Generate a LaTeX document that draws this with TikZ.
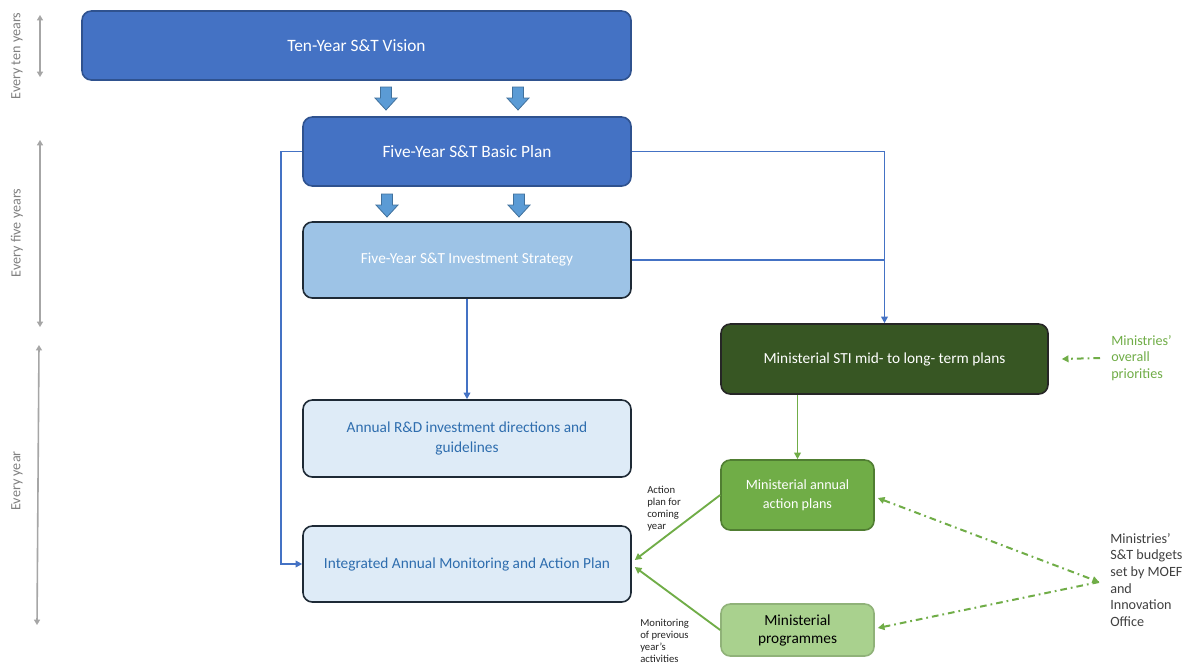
\documentclass[tikz,border=0pt]{standalone}
\usepackage{fontspec}
\setmainfont{Carlito}
\usetikzlibrary{arrows.meta}

\definecolor{vision}{HTML}{4472C4}
\definecolor{visionedge}{HTML}{2F528F}
\definecolor{strat}{HTML}{9DC3E6}
\definecolor{pale}{HTML}{DEEBF7}
\definecolor{paletext}{HTML}{2E6DAE}
\definecolor{darkgreen}{HTML}{375623}
\definecolor{midgreen}{HTML}{70AD47}
\definecolor{lightgreen}{HTML}{A9D18E}
\definecolor{greenedge}{HTML}{507E32}
\definecolor{greenline}{HTML}{70AD47}
\definecolor{blueline}{HTML}{4472C4}
\definecolor{dropfill}{HTML}{5B9BD5}
\definecolor{dropedge}{HTML}{41719C}
\definecolor{timegray}{HTML}{A6A6A6}
\definecolor{timetext}{HTML}{808080}
\definecolor{edgedark}{HTML}{1E2A36}
\definecolor{notetext}{HTML}{404040}

\tikzset{
  box/.style={rounded corners=7pt, line width=1.2pt, align=center, inner sep=2pt},
  bluebox/.style={box, fill=vision, draw=visionedge, text=white,
    font=\fontsize{13}{16}\selectfont},
  stratbox/.style={box, fill=strat, draw=edgedark, text=white,
    font=\fontsize{11.5}{14}\selectfont},
  palebox/.style={box, fill=pale, draw=edgedark, text=paletext,
    font=\fontsize{11.5}{14.3}\selectfont},
  stibox/.style={box, fill=darkgreen, draw=black!85, text=white,
    font=\fontsize{11.5}{14}\selectfont},
  actbox/.style={box, fill=midgreen, draw=greenedge, text=white,
    font=\fontsize{10.6}{14}\selectfont},
  progbox/.style={box, fill=lightgreen, draw=lightgreen!85!black, text=black,
    font=\fontsize{11.5}{13.5}\selectfont},
  blueconn/.style={draw=blueline, line width=1.4pt},
  bluearrow/.style={blueconn, -{Triangle[length=5pt,width=5pt]}},
  greenarrow/.style={draw=greenline, line width=1.4pt, -{Triangle[length=5pt,width=5pt]}},
  greendash/.style={draw=greenline, line width=1.5pt,
    dash pattern=on 5pt off 3pt on 1.3pt off 3pt},
  timeline/.style={draw=timegray, line width=1.2pt,
    {Triangle[length=4pt,width=4.5pt]}-{Triangle[length=4pt,width=4.5pt]}},
  timelabel/.style={text=timetext, font=\fontsize{10.6}{13}\selectfont, rotate=90, inner sep=0pt},
  smallnote/.style={text=black!85, font=\fontsize{8}{9}\selectfont, align=left, inner sep=0pt},
  sidenote/.style={font=\fontsize{10.6}{12.5}\selectfont, align=left, inner sep=0pt},
  drop/.pic={
    \filldraw[fill=dropfill, draw=dropedge, line width=0.6pt]
      (-5.5,0) -- (5.5,0) -- (5.5,11) -- (11,11) -- (0,23) -- (-11,11) -- (-5.5,11) -- cycle;
  }
}

\begin{document}
\begin{tikzpicture}[x=0.75pt, y=-0.75pt]
  \useasboundingbox[fill=white] (0,0) rectangle (1189,664);

  % time scale on the left
  \coordinate (t10a) at (40,15);  \coordinate (t10b) at (40,77);
  \coordinate (t5a)  at (40,140); \coordinate (t5b)  at (40,327);
  \coordinate (t1a)  at (39,345); \coordinate (t1b)  at (37,625);
  \draw[timeline] (t10a) -- (t10b);
  \draw[timeline] (t5a) -- (t5b);
  \draw[timeline] (t1a) -- (t1b);
  \node[timelabel] (l10) at (17,56)  {Every ten years};
  \node[timelabel] (l5)  at (17,233) {Every five years};
  \node[timelabel] (l1)  at (17,481) {Every year};

  % national planning chain
  \node[bluebox, minimum width=411.75pt, minimum height=51.75pt] (vision) at (356.5,45.5) {Ten-Year S\&T Vision};
  \node[bluebox, minimum width=246pt, minimum height=51.75pt] (basic) at (467,151.5) {Five-Year S\&T Basic Plan};
  \node[stratbox, minimum width=246pt, minimum height=57pt] (strat) at (467,260) {Five-Year S\&T Investment Strategy};
  \node[palebox, minimum width=246pt, minimum height=57.75pt] (rd) at (467,438.5) {Annual R\&D investment directions and\\guidelines};
  \node[palebox, minimum width=246pt, minimum height=57pt] (integ) at (467,564) {Integrated Annual Monitoring and Action Plan};

  % ministerial chain
  \node[stibox, minimum width=245.25pt, minimum height=52.5pt] (sti) at (884.5,359) {Ministerial STI mid- to long- term plans};
  \node[actbox, minimum width=114.75pt, minimum height=52.5pt] (act) at (797.5,495) {Ministerial annual\\action plans};
  \node[progbox, minimum width=114.75pt, minimum height=39pt] (prog) at (797.5,630) {Ministerial\\programmes};

  % block arrows between the top levels
  \pic (d1) at (386,87) {drop};
  \pic (d2) at (518,87) {drop};
  \pic (d3) at (387,194) {drop};
  \pic (d4) at (519,194) {drop};

  % blue connectors
  \draw[bluearrow] (basic.west) -- ++(-21,0) |- (integ.west);
  \draw[bluearrow] (basic.east) -| (sti.north);
  \draw[blueconn] (strat.east) -- (strat.east -| sti.north);
  \draw[bluearrow] (strat.south) -- (rd.north);

  % green connectors
  \draw[greenarrow] (sti.south -| act.north) -- (act.north);
  \draw[greenarrow] (act.west) -- ([shift={(3,-4)}]integ.east);
  \draw[greenarrow] (prog.west) -- ([shift={(3,3)}]integ.east);

  % notes on the green connectors
  \node[smallnote, anchor=west] (nact) at (647,509) {Action\\plan for\\coming\\year};
  \node[smallnote, anchor=west] (nmon) at (640,641) {Monitoring\\of previous\\year’s\\activities};

  % outside inputs
  \node[sidenote, text=greenline, anchor=west] (prio) at (1111,358) {Ministries’\\overall\\priorities};
  \node[sidenote, text=notetext, anchor=west] (budget) at (1110,580) {Ministries’\\S\&T budgets\\set by MOEF\\and\\Innovation\\Office};
  \coordinate (bud) at ([shift={(-11,2)}]budget.west);

  \draw[greendash, -{Triangle[length=5pt,width=5pt]}] ([shift={(-11,0)}]prio.west) -- ([shift={(13,0)}]sti.east);
  \draw[greendash, {Triangle[length=5pt,width=5pt]}-{Triangle[length=5pt,width=5pt]}] ([shift={(3,3)}]act.east) -- (bud);
  \draw[greendash, -{Triangle[length=5pt,width=5pt]}] (bud) -- ([shift={(3,-2)}]prog.east);
\end{tikzpicture}
\end{document}
